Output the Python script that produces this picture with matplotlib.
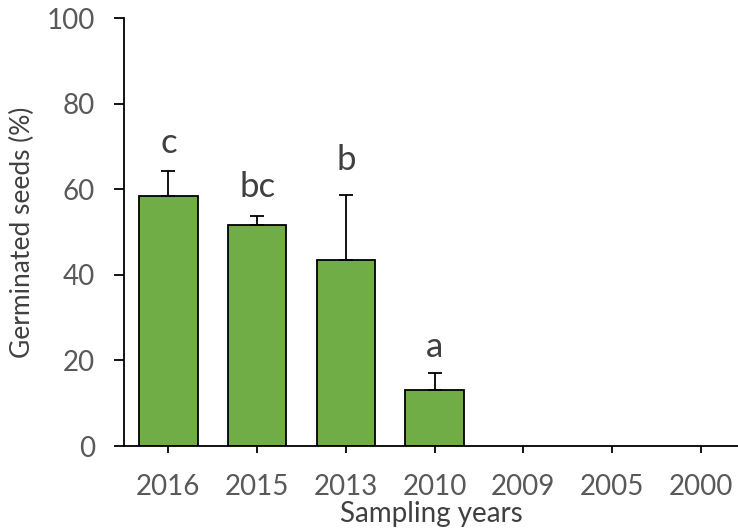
import matplotlib
import matplotlib.pyplot as plt

matplotlib.rcParams.update({'font.size': 20, 'font.family': ['Lato', 'DejaVu Sans']})

# data
years = ["2016", "2015", "2013", "2010", "2009", "2005", "2000"]
germinated = [58.4, 51.6, 43.5, 13.1, 0, 0, 0]
err = [5.9, 2.1, 15.1, 4.0, 0, 0, 0]
letters = ["c", "bc", "b", "a", "", "", ""]
letter_y = [70.8, 60.5, 66.8, 23.1, None, None, None]

grey = "#595959"

fig = plt.figure(figsize=(7.38, 5.31), dpi=100)
ax = fig.add_axes([0.168, 0.16, 0.832, 0.806])

x = range(len(years))
shown = [i for i in x if germinated[i] > 0]
ax.bar([i for i in shown], [germinated[i] for i in shown], width=0.66,
       color="#70AD47", edgecolor="black", linewidth=1.3, zorder=2)
ax.errorbar([i for i in shown], [germinated[i] for i in shown],
            yerr=[[0] * len(shown), [err[i] for i in shown]],
            fmt="none", ecolor="black", elinewidth=1.3, capsize=5, capthick=1.3, zorder=3)

for i in shown:
    ax.text(i, letter_y[i], letters[i], ha="center", va="center", fontsize=25, color="#404040")

ax.set_xlim(-0.5, 6.42)
ax.set_ylim(0, 100)
ax.set_yticks([0, 20, 40, 60, 80, 100])
ax.set_xticks(list(x))
ax.set_xticklabels(years)

ax.spines["top"].set_visible(False)
ax.spines["right"].set_visible(False)
ax.spines["left"].set_linewidth(1.3)
ax.spines["bottom"].set_linewidth(1.3)
ax.tick_params(axis="y", direction="out", length=7, width=1.3, colors="black", labelcolor=grey, pad=14)
ax.tick_params(axis="x", direction="out", length=5, width=1.3, colors="black", labelcolor=grey, pad=15)

ax.set_xlabel("Sampling years", color="#404040", fontsize=20)
ax.xaxis.set_label_coords(0.5, -0.128)
ax.set_ylabel("Germinated seeds (%)", color="#404040", fontsize=19)
ax.yaxis.set_label_coords(-0.145, 0.5)

fig.savefig("out.png", dpi=100)
